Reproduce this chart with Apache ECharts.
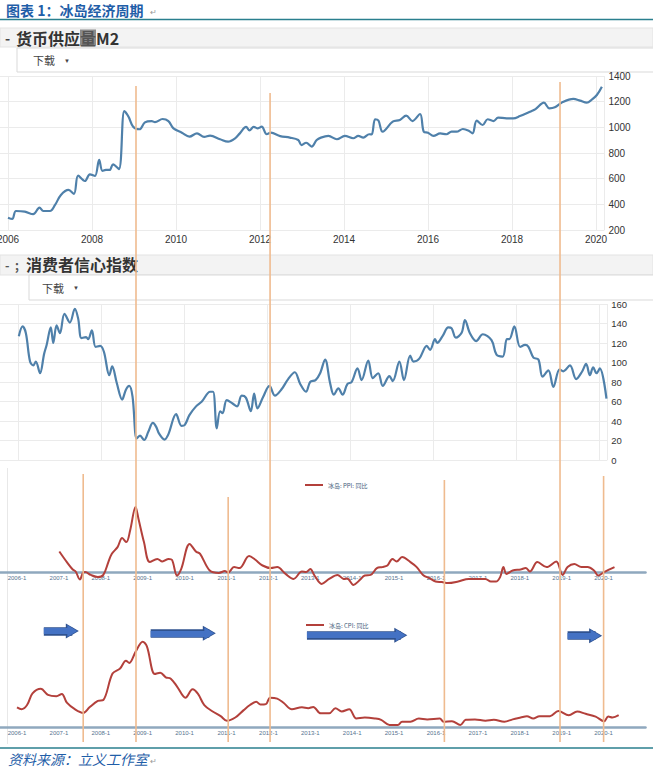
<!DOCTYPE html>
<html><head><meta charset="utf-8">
<script src="https://cdn.jsdelivr.net/npm/echarts@6/dist/echarts.min.js"></script>
<style>html,body{margin:0;padding:0;background:#fff}#c{width:653px;height:769px}</style>
</head><body><div id="c"></div>
<script>
// ---------------- data ----------------
const m2Years = [2006.00,2006.10,2006.19,2006.40,2006.60,2006.75,2006.84,2007.00,2007.12,2007.26,
2007.44,2007.57,2007.67,2007.83,2007.95,2008.07,2008.17,2008.25,2008.33,2008.42,
2008.50,2008.64,2008.77,2008.87,2008.98,2009.13,2009.26,2009.42,2009.50,2009.68,
2009.82,2009.94,2010.14,2010.32,2010.50,2010.67,2010.81,2011.05,2011.24,2011.40,
2011.52,2011.67,2011.75,2011.85,2011.95,2012.04,2012.16,2012.26,2012.48,2012.71,
2012.91,2012.99,2013.10,2013.23,2013.35,2013.45,2013.63,2013.83,2014.02,2014.22,
2014.34,2014.46,2014.60,2014.66,2014.74,2014.82,2014.92,2015.16,2015.33,2015.48,
2015.63,2015.81,2015.90,2016.00,2016.13,2016.29,2016.44,2016.56,2016.68,2016.83,
2016.97,2017.06,2017.16,2017.30,2017.42,2017.56,2017.67,2017.87,2018.03,2018.19,
2018.43,2018.56,2018.76,2018.89,2019.02,2019.18,2019.46,2019.62,2019.78,2019.90,
2020.02,2020.14];
const m2Values = [296,286,348,343,323,374,348,348,395,473,
512,481,623,582,634,621,746,660,668,668,
712,675,1127,1083,1005,985,1039,1049,1040,1065,
1049,992,958,927,953,925,935,907,888,912,
953,1003,977,1003,992,1005,946,958,932,920,
901,862,880,850,901,920,933,907,933,915,
933,920,946,945,1063,1053,966,1044,1057,1091,
1049,1104,966,958,933,953,946,966,966,987,
974,953,1052,1018,1063,1049,1076,1070,1070,1088,
1122,1142,1192,1148,1156,1192,1221,1208,1192,1216,
1252,1317];

const cciYears = [2006.02,2006.11,2006.19,2006.29,2006.37,2006.43,2006.53,2006.63,2006.69,2006.79,
2006.85,2006.93,2007.01,2007.12,2007.25,2007.37,2007.45,2007.53,2007.64,2007.69,
2007.78,2007.87,2007.98,2008.07,2008.20,2008.27,2008.38,2008.51,2008.60,2008.68,
2008.76,2008.86,2008.94,2009.04,2009.14,2009.25,2009.33,2009.40,2009.53,2009.62,
2009.81,2009.94,2010.02,2010.13,2010.29,2010.43,2010.63,2010.70,2010.79,2010.87,
2010.93,2011.03,2011.17,2011.28,2011.39,2011.49,2011.61,2011.69,2011.77,2011.90,
2012.06,2012.19,2012.35,2012.51,2012.67,2012.80,2012.94,2013.04,2013.17,2013.28,
2013.40,2013.52,2013.61,2013.72,2013.82,2013.94,2014.04,2014.18,2014.28,2014.44,
2014.55,2014.68,2014.79,2014.95,2015.03,2015.19,2015.30,2015.45,2015.53,2015.67,
2015.85,2015.93,2016.05,2016.10,2016.23,2016.37,2016.45,2016.55,2016.69,2016.77,
2016.89,2017.04,2017.20,2017.41,2017.53,2017.68,2017.78,2017.84,2017.96,2018.10,
2018.22,2018.30,2018.42,2018.54,2018.64,2018.78,2018.90,2019.05,2019.14,2019.30,
2019.45,2019.59,2019.69,2019.78,2019.86,2019.94,2020.02,2020.18];
const cciValues = [127,137,130,101,97,101,89,109,118,136,
120,138,130,150,141,155,145,125,126,124,
133,116,117,111,87,96,79,62,72,76,
65,22,25,20.5,29,38,34,27,21,26,
47,35,36,46,55,60,70,70,32.5,50,
48,61.5,58,55,66,64,50,68,53,64,
76,66,72.5,83,90,78,70,80,82,89,
103,79,67,73.5,67,78,80,94,82,102,
84,89,76,86,81,101,82,107,101,104,
117,113,124,120,127,136,135,125.5,130.5,143.6,
130,122,129,123,108,106,124,124,137,116,
118,116,105,103,85.5,92,75,93,91,97,
83,90.5,98.5,87,95,89,94,63];

const ppiYears = [2007.01,2007.19,2007.33,2007.40,2007.50,2007.58,2007.63,2007.76,2007.93,2008.06,
2008.18,2008.26,2008.40,2008.51,2008.61,2008.70,2008.83,2008.90,2009.03,2009.17,
2009.35,2009.47,2009.62,2009.70,2009.82,2009.92,2010.12,2010.27,2010.37,2010.60,
2010.82,2010.96,2011.04,2011.18,2011.31,2011.54,2011.68,2011.86,2012.06,2012.21,
2012.41,2012.60,2012.80,2012.90,2013.00,2013.10,2013.27,2013.45,2013.65,2013.80,
2013.88,2014.03,2014.17,2014.30,2014.44,2014.59,2014.72,2014.84,2014.96,2015.06,
2015.19,2015.39,2015.54,2015.69,2015.84,2015.99,2016.14,2016.28,2016.53,2016.78,
2016.98,2017.18,2017.31,2017.43,2017.53,2017.61,2017.68,2017.83,2018.02,2018.14,
2018.24,2018.42,2018.64,2018.87,2019.02,2019.14,2019.30,2019.47,2019.62,2019.77,
2019.87,2020.01,2020.26];
const ppiValues = [10.5,5.2,1.5,0.5,-3.5,0,0.2,-1.2,-2.3,-1.2,
5.2,9.3,12.7,17.2,15.2,21,32.7,26.8,15.2,5.2,
6.8,5.5,6.8,6.3,-1.5,1.8,14.3,10.5,9.3,1,
-0.2,0.7,0,2.7,2.2,8.2,6.5,3.5,2.2,2.7,
-0.7,-3.2,0.5,0.2,1.8,-1.5,-5.7,-3.2,-1.2,-3.2,
-3,-6.2,-4,-1.5,-1.2,2.2,2.7,3.5,6.8,5.5,
7.7,5.2,2.7,-1.2,-2.8,-4.5,-4.8,-5.3,-4.5,-3.2,
-3.2,-3.2,-4.5,-4.5,-2.3,2.7,-0.7,1,1.5,2.2,
0.5,5.2,2.7,5.5,-1.2,2.7,4.3,2.7,2.7,1,
-1.5,0.2,2.7];

const cpiYears = [2006.00,2006.11,2006.24,2006.37,2006.57,2006.74,2006.94,2007.07,2007.19,2007.38,
2007.58,2007.73,2007.93,2008.06,2008.28,2008.46,2008.60,2008.68,2008.83,2009.00,
2009.10,2009.29,2009.42,2009.55,2009.67,2009.82,2010.02,2010.19,2010.32,2010.47,
2010.67,2010.86,2011.01,2011.21,2011.41,2011.56,2011.71,2011.81,2011.94,2012.04,
2012.21,2012.36,2012.56,2012.80,2012.95,2013.07,2013.25,2013.45,2013.60,2013.75,
2013.93,2014.10,2014.30,2014.54,2014.69,2014.89,2015.09,2015.19,2015.39,2015.59,
2015.79,2016.09,2016.18,2016.38,2016.58,2016.71,2016.93,2017.18,2017.38,2017.63,
2017.83,2018.02,2018.17,2018.32,2018.47,2018.72,2018.92,2019.17,2019.37,2019.57,
2019.81,2020.01,2020.11,2020.21,2020.36];
const cpiValues = [4.4,4.0,4.9,7.4,8.4,7.1,6.8,7.3,5.4,4.0,
3.2,4.4,5.8,6.0,11.7,12.8,14.5,14.0,16.4,18.6,
17.6,11.6,11.9,10.9,10.6,8.9,6.5,8.3,7.3,4.9,
3.5,2.5,1.5,2.2,3.8,4.9,5.6,5.0,5.1,6.5,
6.3,5.4,4.0,4.4,4.2,4.5,3.1,3.1,4.2,3.5,
4.0,2.0,2.2,2.0,1.7,0.6,0.6,1.3,1.3,2.0,
1.8,2.0,1.3,1.4,0.6,1.7,1.8,1.5,1.7,1.3,
1.8,2.2,2.5,2.0,2.5,2.5,3.6,2.7,3.5,3.0,
2.4,1.4,2.4,2.2,2.7];

// annotation values (years on the lower charts' time axis)
const cycleYears = [2007.58, 2008.84, 2011.04, 2012.04, 2016.20, 2018.96, 2020.00];
const arrowStart = [2006.64, 2009.19, 2012.92, 2019.14];
const arrowEnd   = [2007.32, 2010.59, 2015.16, 2019.81];
const arrowLevel = [20.9, 20.4, 20.0, 19.9];

const ppiName = '冰岛: PPI: 同比';
const cpiName = '冰岛: CPI: 同比';

// ---------------- layout / style ----------------
const cycleTops = [474, 86, 497, 93, 480, 82, 476];
const cycleBottom = 742;
const FONT = "'Liberation Sans','Noto Sans CJK SC',sans-serif";
const CJK = "'Noto Sans CJK SC','Liberation Sans',sans-serif";
const BLUE_LINE = '#4f80aa';
const RED_LINE = '#b3403b';
const TITLE_BLUE = '#1f5ea8';

const zip = (xs, ys) => xs.map((x, i) => [x, ys[i]]);

const chart = echarts.init(document.getElementById('c'), null, {renderer: 'svg'});

const staticGraphics = [
  {type:'text', id:'title', x:6, y:10, style:{text:'图表 1：冰岛经济周期', fontFamily:CJK, fontSize:14, fontWeight:'bold', fill:TITLE_BLUE, verticalAlign:'middle'}},
  {type:'text', id:'titleMark', x:150, y:11, style:{text:'↵', fontFamily:CJK, fontSize:8, fill:'#999', verticalAlign:'middle'}},
  {type:'line', id:'rule', shape:{x1:0, y1:19.5, x2:653, y2:19.5}, style:{stroke:'#2a7f8e', lineWidth:1.6}},
  // panel 1 header
  {type:'rect', id:'h1', shape:{x:0, y:28, width:653, height:19}, style:{fill:'#f3f3f3', stroke:'#e3e3e3', lineWidth:1}},
  {type:'text', id:'h1dash', x:5, y:37.5, style:{text:'-', fontFamily:CJK, fontSize:14, fontWeight:'bold', fill:'#444', verticalAlign:'middle'}},
  {type:'text', id:'h1t', x:16, y:37.5, style:{text:'{a|货币供应}{b|量}{a|M2}', verticalAlign:'middle',
     rich:{a:{fontFamily:CJK, fontSize:16, fontWeight:'bold', fill:'#333'}, b:{fontFamily:CJK, fontSize:16, fontWeight:'bold', fill:'#555', backgroundColor:'#8a8a8a'}}}},
  {type:'rect', id:'b1', shape:{x:17, y:48, width:640, height:24}, style:{fill:'#fff', stroke:'#d9d9d9', lineWidth:1}},
  {type:'text', id:'b1t', x:33, y:60, style:{text:'下载', fontFamily:CJK, fontSize:11, fill:'#444', verticalAlign:'middle'}},
  {type:'text', id:'b1a', x:64, y:60.5, style:{text:'▼', fontFamily:FONT, fontSize:6, fill:'#444', verticalAlign:'middle'}},
  // panel 2 header
  {type:'rect', id:'h2', shape:{x:0, y:255, width:653, height:20}, style:{fill:'#f3f3f3', stroke:'#e3e3e3', lineWidth:1}},
  {type:'text', id:'h2dash', x:5, y:264.5, style:{text:'-  ;', fontFamily:CJK, fontSize:12, fontWeight:'bold', fill:'#555', verticalAlign:'middle'}},
  {type:'text', id:'h2t', x:26, y:264, style:{text:'消费者信心指数', fontFamily:CJK, fontSize:16, fontWeight:'bold', fill:'#333', verticalAlign:'middle'}},
  {type:'rect', id:'b2', shape:{x:29, y:275, width:630, height:25}, style:{fill:'#fff', stroke:'#d9d9d9', lineWidth:1}},
  {type:'text', id:'b2t', x:42, y:287.5, style:{text:'下载', fontFamily:CJK, fontSize:11, fill:'#444', verticalAlign:'middle'}},
  {type:'text', id:'b2a', x:73, y:288, style:{text:'▼', fontFamily:FONT, fontSize:6, fill:'#444', verticalAlign:'middle'}},
  // faint left border of the lower charts
  {type:'line', id:'lowBorder', shape:{x1:7.5, y1:468, x2:7.5, y2:744}, style:{stroke:'#e8e8e8', lineWidth:1}},
  // footer
  {type:'line', id:'frule', shape:{x1:0, y1:748, x2:653, y2:748}, style:{stroke:'#2a7f8e', lineWidth:1.6}},
  {type:'text', id:'foot', x:8, y:759, style:{text:'资料来源：立义工作室', fontFamily:CJK, fontSize:14, fontStyle:'italic', fill:TITLE_BLUE, verticalAlign:'middle'}},
  {type:'text', id:'footMark', x:150, y:760, style:{text:'↵', fontFamily:CJK, fontSize:8, fill:'#999', verticalAlign:'middle'}}
];

const arrowData = arrowStart.map((s, i) => [{coord:[s, arrowLevel[i]]}, {coord:[arrowEnd[i], arrowLevel[i]]}]);

const intLabel = v => String(v);
const monthLabel = v => (Number.isInteger(v) && v >= 2006 && v < 2021) ? v + '-1' : '';

const lowAxis = (gi) => ({
  type:'value', gridIndex:gi, min:2005, max:2021, interval:1,
  axisLine:{show:true, lineStyle:{color:'#8fa8be', width:2.5}}, axisTick:{show:false},
  axisLabel:{fontSize:6, color:'#56738f', margin:2, showMaxLabel:false, showMinLabel:false, formatter:monthLabel},
  splitLine:{show:false}
});

const option = {
  animation: false,
  textStyle: {fontFamily: FONT},
  grid: [
    {left:-76, top:76, width:680.4, height:154, outerBoundsMode:'none', containLabel:false},
    {left:-65, top:304, width:672.3, height:156, outerBoundsMode:'none', containLabel:false},
    {left:-24.9, top:500.5, width:670.4, height:72, outerBoundsMode:'none', containLabel:false},
    {left:-24.9, top:616.7, width:670.4, height:111, outerBoundsMode:'none', containLabel:false}
  ],
  xAxis: [
    {type:'value', gridIndex:0, min:2004, max:2020.2, interval:2,
     axisLine:{show:false}, axisTick:{show:false},
     axisLabel:{fontSize:10, color:'#333', margin:4, showMaxLabel:false, formatter:v => (Number.isInteger(v) && v % 2 === 0) ? String(v) : ''},
     splitLine:{show:true, lineStyle:{color:'#ebebeb', width:1}}},
    {type:'value', gridIndex:1, min:2004, max:2020.2, interval:2,
     axisLine:{show:false}, axisTick:{show:false}, axisLabel:{show:false},
     splitLine:{show:true, lineStyle:{color:'#ebebeb', width:1}}},
    lowAxis(2),
    lowAxis(3)
  ],
  yAxis: [
    {type:'value', gridIndex:0, position:'right', min:200, max:1400, interval:200,
     axisLine:{show:false}, axisTick:{show:false},
     axisLabel:{fontSize:10, color:'#333', margin:4, formatter:intLabel},
     splitLine:{lineStyle:{color:'#ebebeb', width:1}}},
    {type:'value', gridIndex:1, position:'right', min:0, max:160, interval:20,
     axisLine:{show:false}, axisTick:{show:false},
     axisLabel:{fontSize:9.5, color:'#333', margin:4, formatter:intLabel},
     splitLine:{lineStyle:{color:'#ebebeb', width:1}}},
    {type:'value', gridIndex:2, min:0, max:36, show:false},
    {type:'value', gridIndex:3, min:0, max:24, show:false}
  ],
  legend: [
    {data:[ppiName], left:300, top:477, itemWidth:18, itemHeight:2, icon:'rect', itemGap:2,
     textStyle:{fontSize:6, color:'#44607c', fontFamily:CJK}, selectedMode:false},
    {data:[cpiName], left:301, top:617, itemWidth:18, itemHeight:2, icon:'rect', itemGap:2,
     textStyle:{fontSize:6, color:'#44607c', fontFamily:CJK}, selectedMode:false}
  ],
  series: [
    {name:'货币供应量M2', type:'line', xAxisIndex:0, yAxisIndex:0, data:zip(m2Years, m2Values),
     smooth:0.35, showSymbol:false, lineStyle:{color:BLUE_LINE, width:2.2}, itemStyle:{color:BLUE_LINE}},
    {name:'消费者信心指数', type:'line', xAxisIndex:1, yAxisIndex:1, data:zip(cciYears, cciValues),
     smooth:0.35, showSymbol:false, lineStyle:{color:BLUE_LINE, width:2.2}, itemStyle:{color:BLUE_LINE}},
    {name:ppiName, type:'line', xAxisIndex:2, yAxisIndex:2, data:zip(ppiYears, ppiValues), clip:false,
     smooth:0.35, showSymbol:false, lineStyle:{color:RED_LINE, width:2}, itemStyle:{color:RED_LINE}},
    {name:cpiName, type:'line', xAxisIndex:3, yAxisIndex:3, data:zip(cpiYears, cpiValues), clip:false,
     smooth:0.35, showSymbol:false, lineStyle:{color:RED_LINE, width:2}, itemStyle:{color:RED_LINE}},
    {name:'arrowOutline', type:'line', xAxisIndex:3, yAxisIndex:3, data:[],
     markLine:{silent:true, symbol:['none','triangle'], symbolSize:[15,13], label:{show:false},
       lineStyle:{color:'#2f528f', width:8.5, type:'solid', cap:'butt'}, emphasis:{disabled:true}, data:arrowData}},
    {name:'arrowFill', type:'line', xAxisIndex:3, yAxisIndex:3, data:[],
     markLine:{silent:true, symbol:['none','triangle'], symbolSize:[12,10], label:{show:false},
       lineStyle:{color:'#4472c4', width:6, type:'solid', cap:'butt'}, emphasis:{disabled:true}, data:arrowData}}
  ],
  graphic: staticGraphics
};

chart.setOption(option);

const cycleLines = cycleYears.map((yr, i) => {
  const x = chart.convertToPixel({xAxisIndex: 2}, yr);
  return {type:'line', id:'cyc' + i, z:5, shape:{x1:x, y1:cycleTops[i], x2:x, y2:cycleBottom},
          style:{stroke:'#efbb8f', lineWidth:1.6}};
});
chart.setOption({graphic: staticGraphics.concat(cycleLines)});
</script>
</body></html>
